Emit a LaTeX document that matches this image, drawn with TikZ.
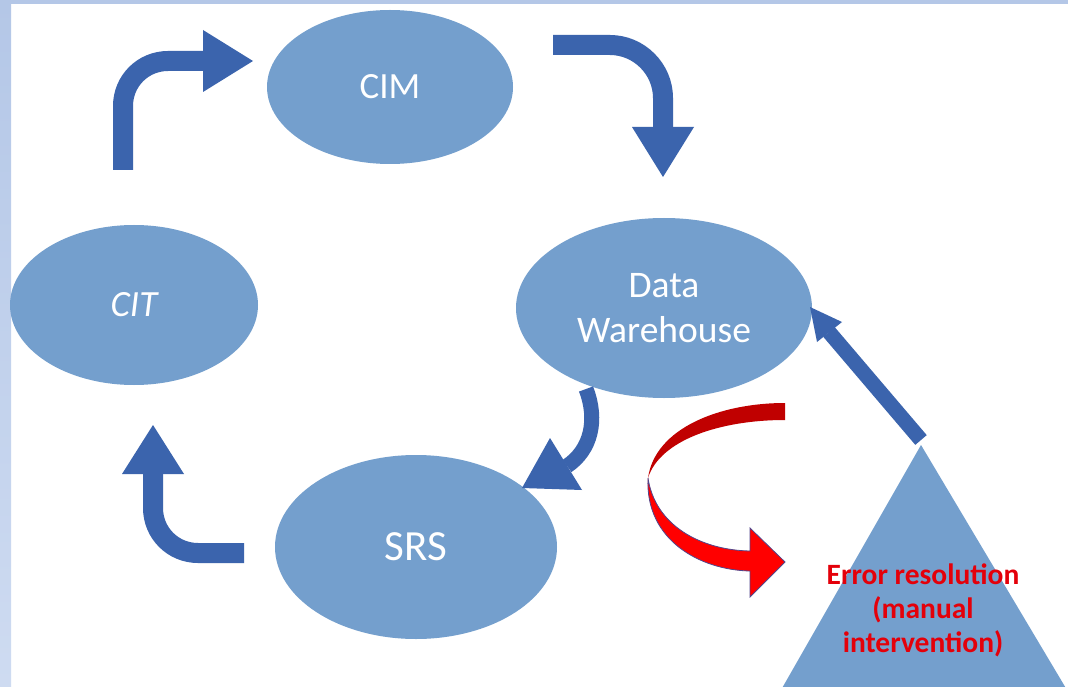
\documentclass[tikz,border=0pt]{standalone}
\usepackage{fontspec}
\setmainfont{Carlito}
\usetikzlibrary{shapes.geometric}
\definecolor{ellfill}{RGB}{116,159,205}
\definecolor{arrblue}{RGB}{59,100,173}
\definecolor{frameblue}{RGB}{180,199,231}
\definecolor{framelight}{RGB}{206,219,241}
\definecolor{darkred}{RGB}{192,0,0}
\definecolor{brightred}{RGB}{255,0,0}
\definecolor{txtred}{RGB}{228,0,10}
\definecolor{ribbonedge}{RGB}{80,70,140}
\tikzset{
  bubble/.style={ellipse, fill=ellfill, draw=none, inner sep=0pt, text=white},
  shaftA/.style={draw=arrblue, line width=20pt},
  shaftB/.style={draw=arrblue, line width=15pt},
  headfill/.style={fill=arrblue},
}
\begin{document}
\begin{tikzpicture}[x=1pt,y=-1pt]
\useasboundingbox (0,0) rectangle (1068,687);
\fill[white] (0,0) rectangle (1068,687);
\shade[top color=frameblue, bottom color=framelight] (0,0) rectangle (11,687);
\fill[frameblue] (0,0) rectangle (1068,4);

% ellipses
\node[bubble, minimum width=246pt, minimum height=154pt, font=\fontsize{37}{44}\selectfont] (cim) at (390,87) {CIM};
\node[bubble, minimum width=248pt, minimum height=160pt, font=\fontsize{37}{44}\selectfont\itshape] (cit) at (134,305) {CIT};
\node[bubble, minimum width=296pt, minimum height=180pt, font=\fontsize{37.5}{45}\selectfont, align=center] (dw) at (664,308) {Data\\Warehouse};
\node[bubble, minimum width=282pt, minimum height=184pt, font=\fontsize{43}{50}\selectfont] (srs) at (416,547) {SRS};

% triangle
\fill[ellfill] (921,445) -- (781,690) -- (1067,690) -- cycle;
\coordinate (apex) at (921,440);
\node[font=\fontsize{29.5}{34}\selectfont\bfseries, text=txtred, align=center] (err) at (923,610) {Error resolution\\(manual\\intervention)};

% CIT -> CIM arrow
\draw[shaftA] (123,170) -- (123,106) .. controls (123,81) and (143,61) .. (168,61) -- (204,61);
\fill[headfill] (203,30) -- (253,61) -- (203,92) -- cycle;

% CIM -> DW arrow
\draw[shaftA] (553,45) -- (610,45) .. controls (639,45) and (663,69) .. (663,98) -- (663,128);
\fill[headfill] (632,127) -- (694,127) -- (663,177) -- cycle;

% DW -> SRS arrow
\draw[shaftB] (586,389) .. controls (598,420) and (591,450) .. (567,466);
\fill[headfill] (550,438) -- (582,490) -- (522,488) -- cycle;

% SRS -> CIT arrow
\draw[shaftA] (244,553) -- (198,553) .. controls (173,553) and (153,533) .. (153,508) -- (153,473);
\fill[headfill] (122,474) -- (184,474) -- (153,425) -- cycle;

% triangle -> DW arrow
\draw[shaftB] (apex) -- (829,332);
\fill[headfill] (817,342) -- (842,322) -- (810,307) -- cycle;

% red ribbon arrow
\fill[darkred] (785,403) .. controls (720,403) and (655,428) .. (648,478)
  .. controls (660,440) and (720,420) .. (785,420) -- cycle;
\filldraw[fill=brightred, draw=ribbonedge, line width=0.8pt] (648,478) .. controls (645,540) and (700,570) .. (750,571)
  -- (750,597) -- (785,562) -- (750,528) -- (750,551)
  .. controls (700,550) and (655,525) .. (648,478) -- cycle;
\end{tikzpicture}
\end{document}
